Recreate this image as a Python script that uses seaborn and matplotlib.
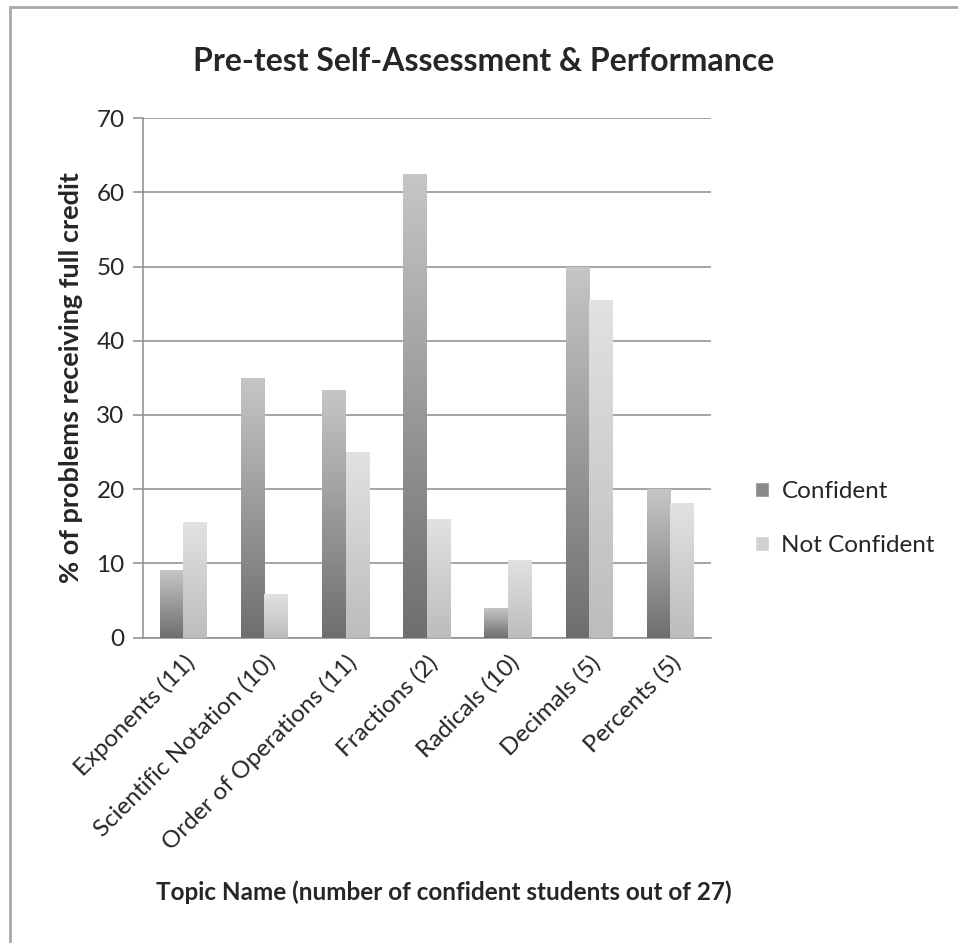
import numpy as np
import pandas as pd
import matplotlib
matplotlib.use("Agg")
import matplotlib.pyplot as plt
import seaborn as sns
from matplotlib.lines import Line2D
from matplotlib.patches import Patch

topics = ["Exponents (11)", "Scientific Notation (10)", "Order of Operations (11)",
          "Fractions (2)", "Radicals (10)", "Decimals (5)", "Percents (5)"]
confident = [9.1, 35.0, 33.3, 62.5, 4.0, 50.0, 20.0]
not_confident = [15.6, 5.9, 25.0, 16.0, 10.5, 45.5, 18.2]
groups = ["Confident", "Not Confident"]

df = pd.DataFrame({
    "Topic": topics * 2,
    "Value": confident + not_confident,
    "Group": [groups[0]] * len(topics) + [groups[1]] * len(topics),
})

sns.set_style("white")
plt.rcParams["font.family"] = ["Lato", "DejaVu Sans"]

fig = plt.figure(figsize=(9.58, 9.43), dpi=100)
ax = fig.add_axes([0.149, 0.3238, 0.593, 0.551])

sns.barplot(data=df, x="Topic", y="Value", hue="Group", palette=["#8a8a8a", "#cfcfcf"],
            width=0.58, ax=ax, legend=False, zorder=3)

# gradient fills (dark bottom -> light top)
grads = {0: ("#6e6e6e", "#c6c6c6"), 1: ("#bcbcbc", "#e2e2e2")}
for i, cont in enumerate(ax.containers):
    lo, hi = grads[i]
    cmap = matplotlib.colors.LinearSegmentedColormap.from_list("g%d" % i, [lo, hi])
    for bar in cont:
        x0, y0 = bar.get_x(), bar.get_y()
        w, h = bar.get_width(), bar.get_height()
        grad = np.linspace(0, 1, 256).reshape(-1, 1)
        im = ax.imshow(grad, cmap=cmap, aspect="auto", origin="lower",
                       extent=[x0, x0 + w, y0, y0 + h], zorder=3)
        im.set_clip_path(bar)
        bar.set_facecolor("none")
        bar.set_edgecolor("none")

ax.set_xlim(-0.5, len(topics) - 0.5)
ax.set_ylim(0, 70)
ax.set_yticks(range(0, 71, 10))
ax.yaxis.grid(True, color="#8c8c8c", linewidth=1.1, zorder=0)
ax.set_axisbelow(True)
for s in ["top", "right"]:
    ax.spines[s].set_visible(False)
for s in ["left", "bottom"]:
    ax.spines[s].set_color("#8c8c8c")
    ax.spines[s].set_linewidth(1.1)

ax.set_xticks(np.arange(len(topics)))
ax.set_xticklabels(topics, rotation=45, ha="right", rotation_mode="anchor", fontsize=17.5)
ax.tick_params(axis="x", length=0, pad=10)
ax.set_xticks(np.arange(-0.5, len(topics)), minor=True)
ax.tick_params(axis="x", which="minor", length=7, color="#8c8c8c", width=1.1, direction="out")
ax.tick_params(axis="y", length=7, color="#8c8c8c", width=1.1, direction="out",
               labelsize=17.5, pad=6, left=True)

ax.set_xlabel("Topic Name (number of confident students out of 27)", fontsize=17.5,
              fontweight="bold")
ax.xaxis.set_label_coords(0.53, -0.468)
ax.set_ylabel("% of problems receiving full credit", fontsize=19.5, fontweight="bold", labelpad=10)
ax.set_title("Pre-test Self-Assessment & Performance", fontsize=23, fontweight="bold",
             x=0.60, pad=34)

handles = [Patch(facecolor="#8a8a8a"), Patch(facecolor="#d0d0d0")]
fig.legend(handles, groups, loc="center left", bbox_to_anchor=(0.765, 0.45), frameon=False,
           fontsize=17.5, handlelength=0.6, handleheight=0.6, handletextpad=0.5, labelspacing=1.35)

# outer frame
fig.add_artist(Line2D([0.0105, 1.0], [0.9925, 0.9925], color="#a8a8a8", linewidth=2))
fig.add_artist(Line2D([0.0105, 0.0105], [0.0, 0.9925], color="#a8a8a8", linewidth=2))

fig.savefig("out.png", dpi=100, facecolor="white")
